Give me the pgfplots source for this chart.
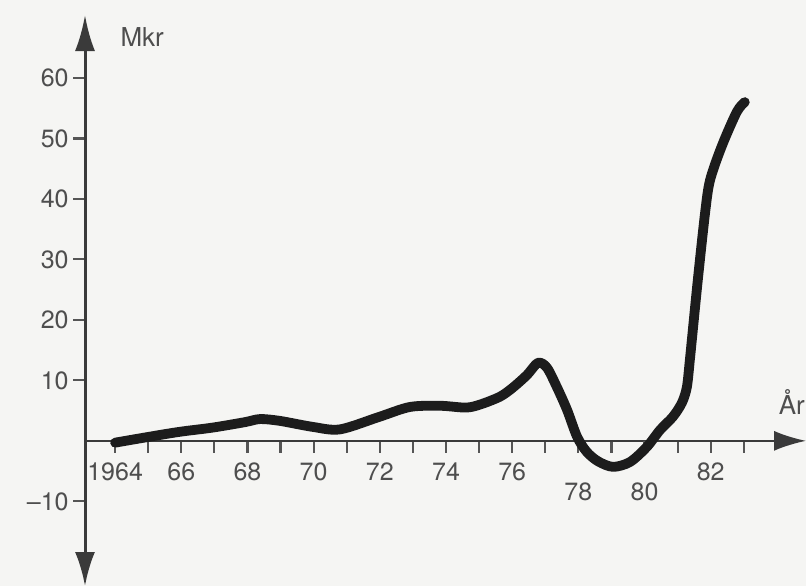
\documentclass[border=0pt]{standalone}
\usepackage{fontspec}
\setmainfont{TeX Gyre Heros}
\usepackage{pgfplots}
\pgfplotsset{compat=1.18}
\usetikzlibrary{arrows.meta}
\definecolor{ink}{HTML}{1C1C1C}
\definecolor{axisgray}{HTML}{3A3A3A}
\definecolor{tickgray}{HTML}{555555}
\definecolor{txt}{HTML}{4E4E4E}
\definecolor{paper}{HTML}{F5F5F3}
\begin{document}
\begin{tikzpicture}
\fill[paper] (-42.5pt,0pt) rectangle (360.5pt,293pt);
\begin{axis}[
  scale only axis, width=360.5pt, height=285.5pt,
  at={(0pt,0pt)}, anchor=south west,
  xmin=1963.09, xmax=1984.88, ymin=-24, ymax=70.4,
  axis x line=middle, axis y line=left,
  clip=false,
  x axis line style={line width=1pt, axisgray, -{Latex[length=16pt,width=10pt]}},
  y axis line style={line width=1.5pt, axisgray, {Latex[length=17pt,width=10pt]}-{Latex[length=18pt,width=10pt]}},
  tick align=outside,
  major tick length=6pt,
  every tick/.style={tickgray, line width=1.1pt},
  xtick={1964,1965,...,1983},
  xticklabels={1964,,66,,68,,70,,72,,74,,76,,,,,,82,},
  extra x ticks={1978,1980},
  extra x tick labels={78,80},
  extra x tick style={xticklabel style={yshift=-10pt}},
  ytick={-10,10,20,30,40,50,60},
  yticklabels={--10,10,20,30,40,50,60},
  tick label style={font=\fontsize{12.5}{14}\selectfont, text=txt, inner sep=1pt},
  xticklabel style={yshift=-4pt},
  yticklabel style={xshift=-1pt},
  /pgf/number format/assume math mode=true,
]
\addplot[ink, line width=4.9pt, smooth, tension=0.5, line cap=round, line join=round] coordinates {
 (1964.00,-0.3) (1965.06,0.7) (1965.96,1.5) (1966.96,2.2) (1967.93,3.1)
 (1968.38,3.6) (1968.98,3.3) (1969.98,2.3) (1970.80,1.9) (1972.00,4.0)
 (1972.91,5.6) (1973.82,5.8) (1974.60,5.5) (1975.03,6.0) (1975.63,7.3)
 (1976.02,8.8) (1976.45,10.9) (1976.78,12.9) (1977.05,12.1) (1977.35,8.9)
 (1977.66,5.1) (1977.96,0.7) (1978.25,-1.8)
 (1978.60,-3.4) (1979.05,-4.3) (1979.56,-3.5) (1980.07,-1.0) (1980.47,1.8)
 (1980.86,4.0) (1981.13,6.3) (1981.28,8.9) (1981.37,13.4) (1981.43,16.7)
 (1981.61,26.6) (1981.83,37.7) (1981.98,43.1) (1982.34,48.8) (1982.79,54.4)
 (1983.03,56.0)
};
\node[txt, font=\fontsize{13}{15}\selectfont] at (axis cs:1964.82,66.8) {Mkr};
\node[txt, font=\fontsize{13}{15}\selectfont] at (axis cs:1984.45,6.4) {År};
\end{axis}
\pgfresetboundingbox
\path[use as bounding box] (-42.5pt,0pt) rectangle (360.5pt,293pt);
\end{tikzpicture}
\end{document}
